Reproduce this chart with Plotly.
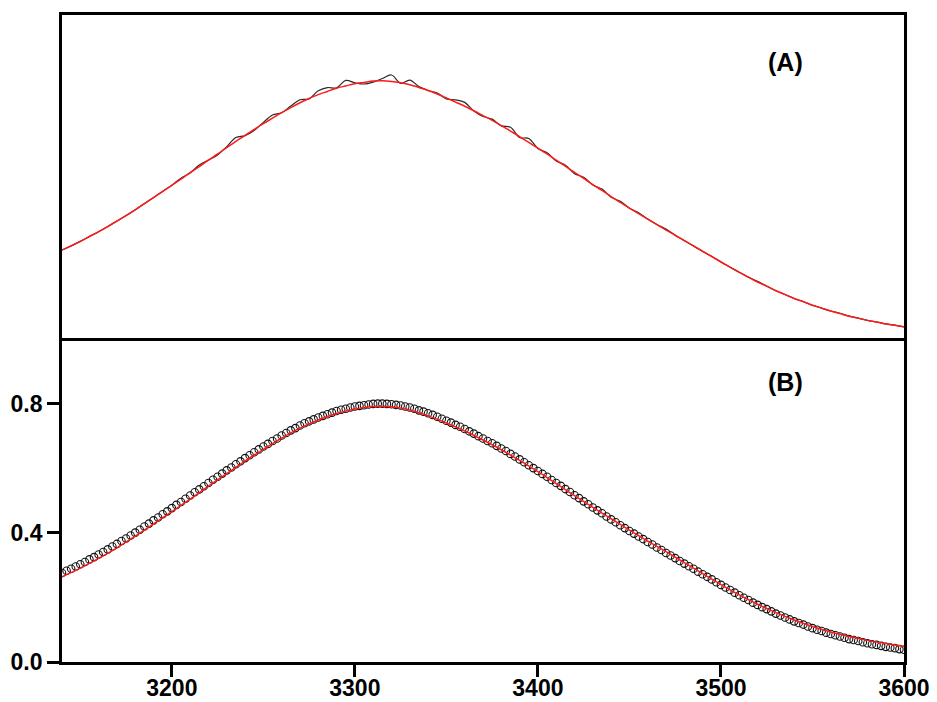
import plotly.graph_objects as go

# ---------------- data ----------------
# bottom panel (B): experimental points, every 2.5 units
x_pts_start, x_pts_step = 3140, 2.5
pts_y = [
    0.276, 0.283, 0.289, 0.296,
    0.303, 0.310, 0.318, 0.325,
    0.333, 0.341, 0.349, 0.358,
    0.366, 0.375, 0.383, 0.392,
    0.401, 0.410, 0.420, 0.429,
    0.439, 0.448, 0.458, 0.467,
    0.477, 0.487, 0.496, 0.506,
    0.516, 0.526, 0.535, 0.545,
    0.555, 0.565, 0.574, 0.584,
    0.594, 0.603, 0.613, 0.622,
    0.632, 0.641, 0.650, 0.659,
    0.668, 0.676, 0.685, 0.693,
    0.702, 0.710, 0.718, 0.725,
    0.733, 0.740, 0.746, 0.752,
    0.758, 0.763, 0.768, 0.773,
    0.778, 0.782, 0.785, 0.789,
    0.792, 0.794, 0.796, 0.798,
    0.800, 0.801, 0.801, 0.800,
    0.799, 0.797, 0.795, 0.792,
    0.789, 0.785, 0.780, 0.776,
    0.771, 0.766, 0.760, 0.754,
    0.748, 0.742, 0.735, 0.729,
    0.722, 0.715, 0.708, 0.700,
    0.693, 0.685, 0.678, 0.670,
    0.662, 0.654, 0.645, 0.637,
    0.628, 0.619, 0.610, 0.601,
    0.592, 0.583, 0.574, 0.564,
    0.555, 0.546, 0.536, 0.527,
    0.517, 0.508, 0.498, 0.489,
    0.479, 0.470, 0.461, 0.451,
    0.442, 0.433, 0.424, 0.415,
    0.406, 0.398, 0.389, 0.381,
    0.372, 0.364, 0.355, 0.347,
    0.338, 0.330, 0.322, 0.313,
    0.305, 0.297, 0.289, 0.280,
    0.272, 0.264, 0.256, 0.247,
    0.239, 0.231, 0.223, 0.215,
    0.207, 0.199, 0.192, 0.184,
    0.177, 0.170, 0.164, 0.157,
    0.150, 0.144, 0.138, 0.132,
    0.126, 0.121, 0.116, 0.110,
    0.105, 0.100, 0.096, 0.091,
    0.087, 0.083, 0.079, 0.075,
    0.071, 0.068, 0.065, 0.061,
    0.058, 0.055, 0.053, 0.050,
    0.047, 0.045, 0.043, 0.040,
    0.038,
]
pts_x = [x_pts_start + i * x_pts_step for i in range(len(pts_y))]

# bottom panel (B): fitted curve, every 10 units
fitB_x = list(range(3140, 3601, 10))
fitB_y = [
    0.264, 0.291, 0.321, 0.354, 0.390, 0.428, 0.466, 0.505, 0.545, 0.584,
    0.623, 0.659, 0.694, 0.725, 0.750, 0.770, 0.784, 0.792, 0.791, 0.781,
    0.763, 0.741, 0.716, 0.688, 0.658, 0.625, 0.590, 0.553, 0.516, 0.479,
    0.444, 0.409, 0.375, 0.342, 0.308, 0.274, 0.240, 0.208, 0.179, 0.153,
    0.130, 0.110, 0.093, 0.079, 0.067, 0.057, 0.048,
]

# top panel (A): raw spectrum and fit, every 5 units
top_x = list(range(3140, 3601, 5))
rawA_y = [
    0.276, 0.289, 0.303, 0.318, 0.333, 0.349, 0.366, 0.383, 0.401, 0.420,
    0.439, 0.458, 0.477, 0.499, 0.515, 0.540, 0.555, 0.571, 0.597, 0.625,
    0.631, 0.647, 0.672, 0.695, 0.702, 0.723, 0.742, 0.745, 0.770, 0.780,
    0.779, 0.802, 0.795, 0.791, 0.797, 0.808, 0.819, 0.793, 0.803, 0.783,
    0.771, 0.763, 0.745, 0.742, 0.734, 0.707, 0.690, 0.682, 0.661, 0.657,
    0.625, 0.622, 0.591, 0.578, 0.552, 0.539, 0.513, 0.502, 0.478, 0.465,
    0.440, 0.427, 0.406, 0.392, 0.372, 0.355, 0.341, 0.322, 0.305, 0.289,
    0.272, 0.256, 0.239, 0.223, 0.207, 0.192, 0.179, 0.164, 0.150, 0.138,
    0.126, 0.116, 0.105, 0.096, 0.087, 0.080, 0.071, 0.065, 0.058, 0.053,
    0.047, 0.043, 0.038,
]
fitA_y = [
    0.276, 0.289, 0.303, 0.318, 0.333, 0.349, 0.366, 0.383, 0.401, 0.420,
    0.439, 0.458, 0.477, 0.496, 0.516, 0.535, 0.555, 0.574, 0.594, 0.613,
    0.632, 0.650, 0.668, 0.685, 0.702, 0.718, 0.733, 0.746, 0.758, 0.768,
    0.778, 0.785, 0.792, 0.796, 0.800, 0.801, 0.799, 0.795, 0.789, 0.780,
    0.771, 0.760, 0.748, 0.735, 0.722, 0.708, 0.693, 0.678, 0.662, 0.645,
    0.628, 0.610, 0.592, 0.574, 0.555, 0.536, 0.517, 0.498, 0.479, 0.461,
    0.442, 0.424, 0.406, 0.389, 0.372, 0.355, 0.338, 0.322, 0.305, 0.289,
    0.272, 0.256, 0.239, 0.223, 0.207, 0.192, 0.177, 0.164, 0.150, 0.138,
    0.126, 0.116, 0.105, 0.096, 0.087, 0.079, 0.071, 0.065, 0.058, 0.053,
    0.047, 0.043, 0.038,
]

x_ticks = [3200, 3300, 3400, 3500, 3600]
y_ticks = [0.0, 0.4, 0.8]
y_tick_labels = ["0.0", "0.4", "0.8"]
panel_labels = ["(A)", "(B)"]

# ---------------- figure ----------------
FONT = "Liberation Sans, Arial, sans-serif"
fig = go.Figure()

# top panel
fig.add_trace(go.Scatter(x=top_x, y=rawA_y, mode="lines", xaxis="x2", yaxis="y2",
                         line=dict(color="#2a2a2a", width=1.2, shape="spline"),
                         showlegend=False))
fig.add_trace(go.Scatter(x=top_x, y=fitA_y, mode="lines", xaxis="x2", yaxis="y2",
                         line=dict(color="#ff1a1a", width=1.5, shape="spline"),
                         showlegend=False))

# bottom panel
fig.add_trace(go.Scatter(x=pts_x, y=pts_y, mode="markers", xaxis="x", yaxis="y",
                         marker=dict(symbol="circle-open", size=7.5, color="#111111",
                                     line=dict(width=1.1)),
                         showlegend=False))
fig.add_trace(go.Scatter(x=fitB_x, y=fitB_y, mode="lines", xaxis="x", yaxis="y",
                         line=dict(color="#ff1a1a", width=1.5, shape="spline"),
                         showlegend=False))

split = 321 / 647
LW = 2.8
common = dict(showline=True, linecolor="black", linewidth=LW,
              showgrid=False, zeroline=False, automargin=False)
tickfont = dict(family=FONT, size=23, color="black", weight="bold")
labelfont = dict(family=FONT, size=25, color="black", weight="bold")

fig.update_layout(
    width=937, height=702,
    margin=dict(l=62, r=33, t=15, b=40, autoexpand=False),
    paper_bgcolor="white", plot_bgcolor="white",
    xaxis=dict(domain=[0, 1], range=[3140, 3600], tickvals=x_ticks,
               ticks="outside", ticklen=12, tickwidth=LW, tickcolor="black",
               tickfont=tickfont, ticklabelstandoff=-9,
               anchor="y", mirror=True, **common),
    yaxis=dict(domain=[0, split], range=[0, 0.995], tickvals=y_ticks,
               ticktext=y_tick_labels, ticks="outside", ticklen=12,
               tickwidth=LW, tickcolor="black", tickfont=tickfont,
               anchor="x", mirror=True, **common),
    xaxis2=dict(domain=[0, 1], range=[3140, 3600], showticklabels=False,
                ticks="", anchor="y2", side="top", mirror=False, **common),
    yaxis2=dict(domain=[split, 1], range=[-0.006, 1.005], showticklabels=False,
                ticks="", anchor="x2", mirror=True, **common),
    annotations=[
        dict(text=panel_labels[0], xref="paper", yref="paper",
             x=(785 - 62) / 842, y=(662 - 62) / 647, xanchor="center",
             yanchor="middle", showarrow=False, font=labelfont),
        dict(text=panel_labels[1], xref="paper", yref="paper",
             x=(785 - 62) / 842, y=(662 - 382) / 647, xanchor="center",
             yanchor="middle", showarrow=False, font=labelfont),
    ],
)

fig.write_html("out.html", config={"displayModeBar": False},
               post_script="document.body.style.margin='0';")
